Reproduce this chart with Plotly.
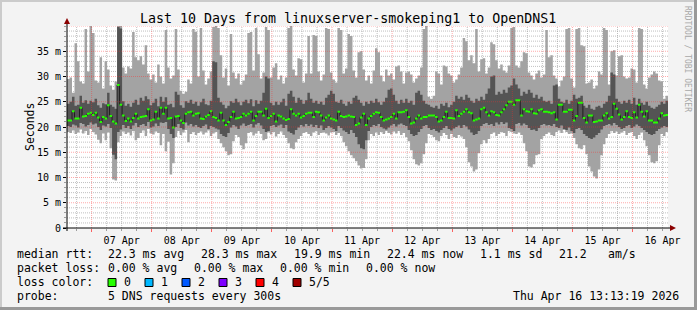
import pandas as pd
import plotly.graph_objects as go

# ---------------- data (hourly steps, milliseconds) ----------------
median = [
    21.3, 21.3, 23.1, 21.7, 21.7, 23.8, 22.1, 22.2, 22.6, 22.8, 22.4, 22.8,
    21.9, 21.0, 22.0, 21.7, 24.3, 22.2, 21.1, 20.7, 28.3, 24.4, 22.3, 21.2,
    21.7, 21.1, 21.8, 22.6, 21.7, 22.0, 22.1, 22.2, 23.5, 21.3, 21.5, 23.0,
    21.7, 23.8, 22.6, 23.8, 21.7, 21.8, 19.9, 22.1, 22.2, 21.3, 20.8, 22.6,
    22.9, 23.0, 22.3, 22.6, 22.7, 21.7, 21.6, 22.1, 22.4, 23.1, 22.0, 21.8,
    21.3, 22.8, 21.3, 20.4, 21.0, 22.0, 23.0, 21.7, 21.8, 22.0, 22.6, 22.3,
    22.6, 23.0, 21.3, 22.2, 23.0, 23.0, 22.3, 23.6, 21.8, 22.2, 22.6, 21.1,
    22.3, 22.1, 21.7, 21.4, 21.6, 23.5, 22.6, 22.3, 22.6, 21.9, 22.2, 22.6,
    22.8, 22.8, 22.0, 23.0, 22.9, 22.3, 21.3, 21.9, 22.3, 21.7, 21.5, 21.3,
    23.0, 22.2, 22.0, 22.1, 22.3, 22.1, 22.0, 20.4, 20.7, 21.9, 22.6, 20.4,
    21.7, 22.2, 22.6, 22.9, 22.8, 22.0, 21.3, 21.5, 21.7, 22.0, 22.6, 21.7,
    22.9, 22.9, 23.0, 23.3, 22.0, 20.7, 20.9, 21.7, 22.3, 21.7, 22.0, 22.0,
    22.3, 22.3, 22.3, 22.0, 21.1, 21.3, 22.0, 23.0, 21.8, 21.8, 21.7, 23.3,
    22.2, 22.6, 23.0, 23.5, 22.9, 22.7, 21.3, 21.5, 21.7, 23.5, 23.8, 22.9,
    22.3, 23.1, 22.9, 22.4, 22.3, 22.9, 23.5, 24.3, 25.0, 25.0, 24.4, 25.3,
    25.3, 22.3, 23.5, 23.1, 23.0, 23.5, 22.7, 22.6, 23.3, 23.5, 23.0, 23.0,
    22.9, 22.7, 22.9, 21.5, 24.4, 24.4, 23.0, 23.0, 23.4, 23.4, 21.3, 22.2,
    24.8, 24.8, 21.8, 20.9, 22.3, 22.3, 21.0, 21.1, 21.3, 21.3, 22.3, 22.7,
    21.7, 22.0, 24.6, 23.6, 22.5, 21.5, 22.0, 23.1, 22.0, 21.8, 22.9, 21.9,
    24.4, 23.0, 22.1, 23.1, 21.3, 21.3, 20.9, 20.9, 21.7, 22.7, 22.3, 22.4,
]
ping_hi = [  # 4th of 5 pings
    24.6, 25.0, 26.0, 24.2, 24.4, 26.2, 24.8, 25.3, 24.6, 25.2, 24.9, 25.6,
    24.3, 23.8, 24.7, 24.5, 26.8, 24.4, 24.0, 23.6, 39.8, 39.5, 25.1, 24.2,
    24.6, 24.0, 24.8, 25.4, 24.4, 25.8, 25.2, 26.1, 25.5, 24.3, 24.8, 25.6,
    24.1, 26.0, 25.0, 25.9, 24.4, 24.6, 23.9, 27.0, 26.4, 24.3, 23.8, 25.1,
    24.8, 25.4, 24.6, 25.0, 24.2, 24.9, 25.6, 24.5, 24.3, 25.2, 33.0, 32.8,
    25.8, 24.9, 24.4, 23.7, 24.2, 25.1, 24.8, 25.6, 24.9, 24.3, 25.0, 25.4,
    24.7, 25.5, 24.1, 25.3, 24.6, 25.2, 26.8, 30.0, 29.6, 24.8, 24.3, 25.0,
    24.4, 24.9, 25.6, 24.2, 26.6, 27.2, 26.0, 24.8, 25.8, 25.4, 24.6, 25.3,
    26.8, 25.6, 24.8, 25.2, 24.6, 25.0, 24.4, 25.8, 26.4, 27.2, 26.6, 25.0,
    24.8, 25.4, 24.6, 24.2, 25.0, 24.6, 25.8, 26.2, 25.4, 24.8, 24.2, 25.0,
    24.6, 25.2, 24.8, 25.6, 24.9, 24.4, 25.0, 25.8, 27.4, 27.6, 26.4, 25.2,
    24.6, 25.4, 24.8, 25.6, 24.8, 25.2, 24.4, 26.8, 27.2, 26.4, 25.2, 24.6,
    24.4, 24.0, 23.8, 24.2, 23.6, 24.6, 24.2, 24.8, 23.9, 24.4, 25.0, 26.2,
    25.6, 26.0, 25.4, 26.4, 25.8, 25.2, 24.8, 25.6, 25.2, 26.0, 25.4, 26.6,
    27.6, 30.0, 30.2, 26.4, 27.0, 26.6, 27.4, 26.8, 27.8, 28.2, 29.6, 28.4,
    27.6, 26.2, 27.0, 26.6, 27.4, 26.8, 25.8, 26.4, 25.6, 26.0, 25.2, 25.0,
    25.2, 24.6, 28.2, 28.4, 25.6, 25.0, 24.8, 25.4, 24.6, 25.2, 26.4, 25.6,
    25.8, 26.2, 24.2, 23.8, 24.4, 23.6, 23.4, 24.0, 24.2, 23.8, 24.6, 25.0,
    26.2, 30.8, 30.4, 25.6, 25.0, 24.6, 25.2, 24.8, 25.4, 24.6, 25.8, 24.4,
    25.6, 24.8, 24.4, 25.0, 24.2, 23.8, 23.6, 24.0, 24.4, 25.0, 24.6, 25.2,
]
ping_lo = [  # 2nd of 5 pings
    20.2, 20.0, 20.5, 20.3, 19.9, 20.8, 20.6, 20.1, 20.4, 20.9, 20.5, 20.7,
    20.0, 19.4, 20.3, 20.1, 20.6, 19.8, 14.5, 13.6, 19.0, 19.5, 20.4, 19.8,
    20.2, 19.6, 20.3, 20.8, 20.0, 20.4, 20.6, 20.2, 21.0, 19.9, 20.1, 20.7,
    20.2, 20.9, 20.8, 21.0, 19.6, 18.6, 17.8, 20.0, 20.6, 19.8, 19.5, 20.9,
    20.3, 20.6, 20.1, 20.4, 20.0, 19.8, 20.2, 20.5, 19.6, 20.2, 20.0, 19.7,
    19.5, 18.6, 18.2, 18.0, 18.8, 19.9, 20.4, 20.1, 19.6, 20.3, 20.7, 20.2,
    20.4, 20.6, 19.9, 20.5, 20.8, 20.3, 19.6, 19.0, 19.2, 20.2, 20.4, 20.0,
    20.3, 20.5, 19.8, 20.4, 19.1, 18.8, 18.5, 19.4, 19.9, 20.4, 20.1, 20.6,
    20.2, 20.5, 20.0, 20.4, 19.8, 20.3, 19.4, 19.8, 20.2, 19.9, 19.6, 19.2,
    20.2, 19.8, 19.3, 19.0, 18.6, 19.4, 18.8, 18.0, 16.6, 15.8, 15.6, 17.4,
    19.2, 20.0, 20.4, 20.2, 20.6, 20.0, 19.7, 19.5, 19.9, 20.3, 20.6, 20.1,
    20.5, 20.7, 20.4, 20.2, 19.4, 18.6, 18.2, 18.4, 19.0, 19.6, 20.2, 20.4,
    19.8, 19.4, 19.6, 19.2, 18.9, 19.4, 19.8, 20.2, 19.6, 19.3, 19.7, 20.0,
    20.3, 19.8, 20.4, 20.1, 19.5, 18.9, 18.4, 18.6, 19.2, 20.2, 20.6, 20.8,
    20.4, 20.6, 20.2, 20.9, 20.5, 21.0, 20.6, 20.9, 19.8, 19.6, 19.2, 20.6,
    20.8, 20.3, 20.7, 20.4, 19.8, 19.4, 19.5, 19.2, 19.8, 20.4, 20.6, 20.3,
    20.4, 20.2, 20.6, 20.0, 19.8, 20.3, 19.6, 19.4, 19.9, 19.2, 18.8, 19.6,
    19.8, 19.4, 18.6, 18.2, 17.8, 17.6, 17.9, 18.4, 18.8, 19.5, 20.2, 20.4,
    20.6, 20.3, 20.8, 20.4, 20.0, 19.6, 19.8, 20.2, 20.4, 19.8, 20.1, 20.5,
    20.2, 19.8, 19.4, 19.0, 18.6, 18.4, 18.6, 19.2, 19.6, 19.9, 20.2, 20.0,
]
ping_min = [
    19.0, 18.8, 19.3, 18.6, 18.9, 19.5, 18.7, 19.2, 18.4, 19.6, 19.0, 18.5,
    17.5, 16.8, 18.7, 17.4, 18.9, 15.8, 9.6, 9.4, 17.0, 18.2, 19.1, 18.6,
    18.9, 18.3, 19.2, 17.4, 17.8, 18.8, 19.3, 18.2, 19.6, 18.7, 18.5, 19.1,
    18.8, 16.4, 18.6, 15.2, 17.1, 10.6, 12.8, 18.0, 19.2, 18.4, 18.9, 19.4,
    17.0, 18.6, 19.0, 18.4, 18.8, 19.1, 18.5, 18.9, 19.3, 18.2, 18.7, 19.0,
    17.6, 16.8, 16.0, 15.2, 14.4, 14.6, 17.2, 18.4, 18.0, 16.4, 15.6, 16.8,
    18.8, 19.0, 18.3, 18.7, 19.2, 18.6, 17.4, 17.6, 18.9, 18.5, 19.0, 18.1,
    18.6, 19.1, 18.4, 17.8, 16.8, 15.8, 15.6, 17.0, 17.6, 18.2, 18.8, 19.0,
    18.6, 18.2, 18.9, 19.2, 18.4, 18.8, 18.9, 18.7, 18.3, 18.9, 19.0, 18.4,
    18.8, 18.2, 17.0, 16.2, 15.2, 14.4, 13.8, 13.2, 12.4, 11.8, 11.9, 13.6,
    17.4, 18.6, 18.2, 18.9, 18.4, 19.0, 18.6, 19.2, 18.8, 18.5, 19.1, 18.7,
    19.2, 18.4, 18.8, 18.0, 17.2, 15.4, 13.6, 12.6, 12.4, 12.8, 14.6, 16.8,
    18.6, 18.4, 18.0, 17.4, 17.2, 18.2, 18.8, 18.4, 17.6, 18.6, 18.0, 17.8,
    18.4, 18.1, 17.6, 16.0, 13.0, 12.2, 11.2, 11.6, 14.8, 16.6, 17.4, 16.8,
    17.6, 18.6, 18.9, 18.2, 18.6, 19.0, 18.8, 18.2, 19.2, 19.0, 18.7, 18.6,
    18.9, 18.4, 16.8, 15.2, 12.2, 12.0, 12.6, 14.4, 14.6, 17.6, 18.2, 18.6,
    18.9, 18.4, 18.2, 19.0, 19.3, 18.8, 19.4, 19.0, 18.6, 18.7, 17.8, 16.6,
    15.8, 15.6, 16.4, 14.6, 12.2, 11.2, 10.2, 9.8, 11.6, 14.4, 16.6, 17.8,
    18.6, 19.2, 18.8, 19.1, 18.6, 18.9, 19.2, 18.4, 18.8, 19.0, 18.2, 17.6,
    18.4, 18.9, 17.4, 16.2, 14.4, 13.0, 12.8, 13.2, 16.4, 18.6, 18.2, 19.0,
]
ping_max = [
    29.5, 29.8, 26.8, 36.6, 33.0, 29.0, 28.6, 39.4, 31.0, 40.5, 38.6, 29.2,
    28.8, 33.8, 27.6, 33.0, 31.4, 28.2, 27.4, 29.0, 40.5, 40.5, 31.8, 30.6,
    32.0, 31.6, 38.8, 33.8, 33.2, 34.0, 32.4, 36.2, 30.6, 29.4, 30.4, 28.8,
    32.4, 30.0, 28.6, 39.2, 31.8, 29.6, 30.2, 39.4, 31.4, 27.2, 26.6, 27.0,
    29.4, 28.6, 39.4, 38.8, 30.0, 39.6, 31.2, 28.4, 29.6, 31.0, 39.8, 40.0,
    39.6, 34.2, 29.8, 31.6, 28.2, 38.4, 30.8, 29.6, 30.6, 28.4, 29.2, 30.4,
    38.6, 38.8, 31.2, 39.6, 34.4, 29.6, 30.8, 39.8, 39.2, 29.8, 31.8, 32.6,
    29.4, 30.2, 28.6, 29.8, 39.6, 40.0, 31.4, 30.2, 33.6, 33.4, 28.8, 30.6,
    38.0, 30.6, 38.2, 38.0, 31.0, 29.2, 30.4, 39.6, 39.4, 30.8, 29.4, 28.8,
    39.6, 39.2, 30.6, 31.6, 38.4, 38.0, 31.2, 29.8, 34.8, 35.0, 31.4, 29.2,
    30.2, 28.6, 31.2, 35.6, 34.8, 30.2, 29.0, 31.4, 30.2, 30.6, 29.4, 32.0,
    32.2, 31.0, 28.6, 30.8, 31.0, 30.4, 28.8, 29.6, 30.2, 31.8, 39.4, 40.0,
    26.0, 25.6, 26.2, 31.0, 30.6, 28.4, 32.2, 32.0, 30.6, 30.2, 28.8, 29.4,
    30.4, 31.8, 37.6, 37.0, 33.2, 34.2, 32.6, 39.4, 31.0, 33.4, 33.6, 30.6,
    31.8, 36.8, 36.4, 33.2, 31.6, 32.4, 31.2, 30.8, 32.2, 39.6, 39.8, 32.2,
    31.8, 33.0, 34.8, 34.6, 30.8, 30.2, 29.4, 30.6, 31.2, 29.8, 30.4, 39.2,
    33.8, 34.2, 30.2, 29.6, 28.0, 29.2, 30.0, 39.4, 39.6, 29.6, 27.8, 39.4,
    39.6, 36.2, 36.0, 28.6, 28.8, 29.4, 27.6, 28.2, 31.0, 30.4, 39.6, 39.2,
    28.4, 35.0, 35.2, 30.2, 34.0, 34.2, 30.0, 29.6, 29.8, 31.6, 31.4, 28.8,
    39.6, 39.4, 28.4, 27.6, 29.8, 30.4, 31.0, 30.6, 29.2, 29.0, 25.6, 26.2,
]

y_tick_vals = [0, 5, 10, 15, 20, 25, 30, 35]
y_tick_text = ["0", "5 m", "10 m", "15 m", "20 m", "25 m", "30 m", "35 m"]

title_text = "Last 10 Days from linuxserver-smokeping1 to OpenDNS1"
row_median = ["median rtt:", "22.3 ms avg", "28.3 ms max", "19.9 ms min",
              "22.4 ms now", "1.1 ms sd", "21.2", "am/s"]
row_loss = ["packet loss:", "0.00 % avg", "0.00 % max", "0.00 % min", "0.00 % now"]
loss_labels = ["0", "1", "2", "3", "4", "5/5"]
loss_colors = ["#26ff00", "#00b8ff", "#0059ff", "#7e00ff", "#ff0000", "#a00000"]
probe_text = ["probe:", "5 DNS requests every 300s"]
date_text = "Thu Apr 16 13:13:19 2026"

# ---------------- geometry ----------------
FW, FH = 697, 310
PL, PR, PT, PB = 67, 668, 26, 228
W, H = PR - PL, PB - PT
MONO = "DejaVu Sans Mono"


def px(x):
    return (x - PL) / W


def py(y):
    return (PB - y) / H


start = pd.Timestamp("2026-04-06 14:10:00")
times = pd.date_range(start, periods=len(median) + 1, freq="h")
x_end = start + pd.Timedelta(days=10)


def ext(a):
    return list(a) + [a[-1]]


fig = go.Figure()


def band(lo, hi, color):
    fig.add_trace(go.Scatter(x=times, y=ext(lo), mode="lines",
                             line=dict(width=0, shape="hv"), hoverinfo="skip"))
    fig.add_trace(go.Scatter(x=times, y=ext(hi), mode="lines", fill="tonexty",
                             fillcolor=color, line=dict(width=0, shape="hv"),
                             hoverinfo="skip"))


band(ping_min, ping_max, "#a3a3a3")
band(ping_lo, ping_hi, "#545454")
fig.add_trace(go.Scatter(x=times, y=ext(median), mode="lines",
                         line=dict(width=1, color="#202020", shape="hv"),
                         hoverinfo="skip"))
swidth = 40.0 / H
band([m - swidth for m in median], [m + swidth for m in median], loss_colors[0])

shapes = []
# minor grid under the smoke, major grid over it (faint)
minor_col = "rgba(150,150,150,0.6)"
major_col = "rgba(255,40,40,0.4)"


def gridline(is_major, **kw):
    shapes.append(dict(type="line", layer="above" if is_major else "below",
                       line=dict(color=major_col if is_major else minor_col,
                                 width=1, dash="1px,1px"), **kw))


for v in range(1, 41):
    gridline(v % 5 == 0, xref="paper", yref="y", x0=0, x1=1, y0=v, y1=v)
t = pd.Timestamp("2026-04-06 18:00:00")
while t < x_end:
    gridline(t.hour == 0, xref="x", yref="paper", x0=t, x1=t, y0=0, y1=1)
    t += pd.Timedelta(hours=6)

# axes lines + arrows
shapes.append(dict(type="line", xref="paper", yref="paper", x0=px(63), x1=px(671),
                   y0=py(228), y1=py(228), line=dict(color="#000000", width=1), layer="above"))
shapes.append(dict(type="line", xref="paper", yref="paper", x0=px(67), x1=px(67),
                   y0=py(231), y1=py(23), line=dict(color="#000000", width=1), layer="above"))
shapes.append(dict(type="path", xref="paper", yref="paper", layer="above",
                   path=f"M {px(670)},{py(225)} L {px(676)},{py(228)} L {px(670)},{py(231)} Z",
                   fillcolor="#8b0000", line=dict(width=0)))
shapes.append(dict(type="path", xref="paper", yref="paper", layer="above",
                   path=f"M {px(64)},{py(24)} L {px(67)},{py(18)} L {px(70)},{py(24)} Z",
                   fillcolor="#8b0000", line=dict(width=0)))

# frame (3D shade)
shapes += [
    dict(type="rect", xref="paper", yref="paper", x0=px(0), x1=px(FW), y0=py(2), y1=py(0),
         fillcolor="#cbcbcb", line=dict(width=0), layer="above"),
    dict(type="rect", xref="paper", yref="paper", x0=px(0), x1=px(2), y0=py(FH), y1=py(0),
         fillcolor="#cbcbcb", line=dict(width=0), layer="above"),
    dict(type="rect", xref="paper", yref="paper", x0=px(0), x1=px(FW), y0=py(FH), y1=py(FH - 3),
         fillcolor="#999999", line=dict(width=0), layer="above"),
    dict(type="rect", xref="paper", yref="paper", x0=px(FW - 3), x1=px(FW), y0=py(FH), y1=py(0),
         fillcolor="#999999", line=dict(width=0), layer="above"),
]

annotations = []


def txt(s, x, y, size=11.5, anchor="left", color="#000000", angle=0):
    annotations.append(dict(text=s, xref="paper", yref="paper", x=px(x), y=py(y),
                            xanchor=anchor, yanchor="middle", showarrow=False,
                            textangle=angle, borderpad=0,
                            font=dict(family=MONO, size=size, color=color)))


txt(title_text, 348, 19, size=13.3, anchor="center")
txt("Seconds", 30, 127, size=11.5, anchor="center", angle=-90)
txt("RRDTOOL / TOBI OETIKER", 688, 59, size=8, anchor="center", color="#a8a8a8", angle=90)

for s, x in zip(row_median, [16, 107, 200, 293, 386, 479, 558, 607]):
    txt(s, x, 254)
for s, x in zip(row_loss, [16, 107, 193, 279, 365]):
    txt(s, x, 268)
txt("loss color:", 16, 282)
box_x = [108, 145, 182, 219, 256, 293]
for lab, col, bx in zip(loss_labels, loss_colors, box_x):
    shapes.append(dict(type="rect", xref="paper", yref="paper", x0=px(bx), x1=px(bx + 8),
                       y0=py(286.5), y1=py(278.5), fillcolor=col,
                       line=dict(color="#000000", width=1), layer="above"))
    txt(lab, bx + 15, 282)
txt(probe_text[0], 16, 296)
txt(probe_text[1], 107, 296)
txt(date_text, 680, 296, anchor="right")

fig.update_layout(
    width=FW, height=FH, margin=dict(l=PL, r=FW - PR, t=PT, b=FH - PB),
    paper_bgcolor="#f3f3f3", plot_bgcolor="#ffffff", showlegend=False,
    shapes=shapes, annotations=annotations,
    xaxis=dict(type="date", range=[start, x_end], showgrid=False, zeroline=False,
               showline=False, tick0="2026-04-07", dtick=86400000,
               tickformat="%d %b", ticklabelmode="period",
               ticks="outside", ticklen=3, tickcolor="rgba(255,0,0,0.6)",
               tickfont=dict(family=MONO, size=10, color="#000000"),
               minor=dict(dtick=6 * 3600 * 1000, ticks="outside", ticklen=2,
                          tickcolor="rgba(120,120,120,0.7)", showgrid=False)),
    yaxis=dict(range=[0, 40], showgrid=False, zeroline=False, showline=False,
               tickmode="array", tickvals=y_tick_vals, ticktext=y_tick_text,
               ticks="outside", ticklen=3, tickcolor="#000000",
               tickfont=dict(family=MONO, size=10, color="#000000"),
               minor=dict(tickmode="linear", tick0=0, dtick=1, ticks="outside",
                          ticklen=2, tickcolor="rgba(120,120,120,0.7)", showgrid=False)),
)

fig.write_html("out.html", config={"displayModeBar": False})
